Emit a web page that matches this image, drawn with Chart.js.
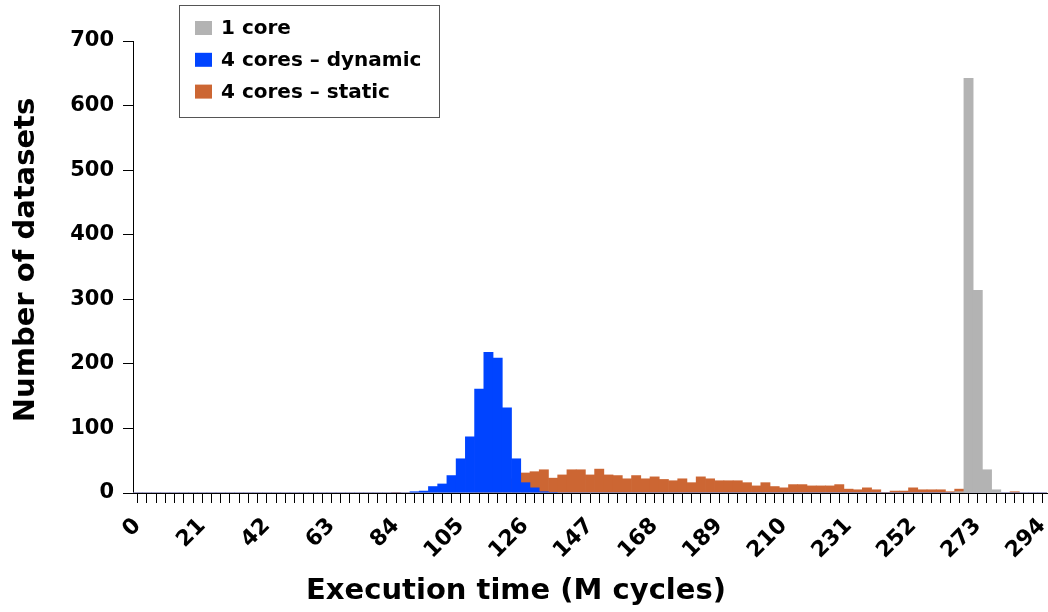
<!DOCTYPE html>
<html>
<head>
<meta charset="utf-8">
<script src="https://cdn.jsdelivr.net/npm/chart.js@4.4.0/dist/chart.umd.min.js"></script>
<style>
  body { margin: 0; background: #fff; }
  #histo { display: block; }
</style>
</head>
<body>
<canvas id="histo" width="1048" height="612"></canvas>
<script>
// bin start of each histogram bar (M cycles, bins of 3)
const binStarts = [
    '0','3','6','9','12','15','18','21','24','27',
    '30','33','36','39','42','45','48','51','54','57',
    '60','63','66','69','72','75','78','81','84','87',
    '90','93','96','99','102','105','108','111','114','117',
    '120','123','126','129','132','135','138','141','144','147',
    '150','153','156','159','162','165','168','171','174','177',
    '180','183','186','189','192','195','198','201','204','207',
    '210','213','216','219','222','225','228','231','234','237',
    '240','243','246','249','252','255','258','261','264','267',
    '270','273','276','279','282','285','288','291','294'
]

// only every 7th bin gets a label
const shownTicks = ['0','21','42','63','84','105','126','147','168','189','210','231','252','273','294']

const oneCore = [
    0,0,0,0,0,0,0,0,0,0,
    0,0,0,0,0,0,0,0,0,0,
    0,0,0,0,0,0,0,0,0,0,
    0,0,0,0,0,0,0,0,0,0,
    0,0,0,0,0,0,0,0,0,0,
    0,0,0,0,0,0,0,0,0,0,
    0,0,0,0,0,0,0,0,0,0,
    0,0,0,0,0,0,0,0,0,0,
    0,0,0,0,0,0,0,0,0,2,
    642,314,36,5,0,0,0,0,0
]

const fourDynamic = [
    0,0,0,0,0,0,0,0,0,0,
    0,0,0,0,0,0,0,0,0,0,
    0,0,0,0,0,0,0,0,0,0,
    2,3,10,14,27,53,87,161,218,209,
    132,53,16,8,2,1,0,0,0,0,
    0,0,0,0,0,0,0,0,0,0,
    0,0,0,0,0,0,0,0,0,0,
    0,0,0,0,0,0,0,0,0,0,
    0,0,0,0,0,0,0,0,0,0,
    0,0,0,0,0,0,0,0,0
]

const fourStatic = [
    0,0,0,0,0,0,0,0,0,0,
    0,0,0,0,0,0,0,0,0,0,
    0,0,0,0,0,0,0,0,1,0,
    0,0,0,0,0,0,0,2,4,8,
    14,22,31,33,36,23,28,36,36,28,
    37,28,27,22,27,22,25,21,19,22,
    16,25,22,19,19,19,16,11,16,10,
    8,13,13,11,11,11,13,6,5,8,
    5,1,3,3,8,5,5,5,2,6,
    0,0,0,0,0,2,0,0,0
]

const seriesNames = ['1 core', '4 cores \u2013 dynamic', '4 cores \u2013 static']
const seriesColors = ['#b3b3b3', '#0044ff', '#cc6633']

const boldFont = (size) => ({ family: 'DejaVu Sans', weight: 'bold', size: size })

// axis titles and the boxed legend, drawn after the bars
const extras = {
    id: 'extras',
    afterDraw(chart) {
        const ctx = chart.ctx
        ctx.save()
        ctx.fillStyle = '#000'
        ctx.font = 'bold 29px "DejaVu Sans"'
        ctx.textAlign = 'center'
        ctx.textBaseline = 'middle'
        ctx.fillText('Execution time (M cycles)', 516, 591)
        ctx.save()
        ctx.translate(26, 260)
        ctx.rotate(-Math.PI / 2)
        ctx.fillText('Number of datasets', 0, 0)
        ctx.restore()

        // legend box
        ctx.fillStyle = '#fff'
        ctx.fillRect(179.5, 5.5, 260, 112)
        ctx.strokeStyle = '#555'
        ctx.lineWidth = 1
        ctx.strokeRect(179.5, 5.5, 260, 112)
        ctx.font = 'bold 20px "DejaVu Sans"'
        ctx.textAlign = 'left'
        chart.data.datasets.forEach((ds, i) => {
            const y = 28 + i * 31.8
            ctx.fillStyle = ds.backgroundColor
            ctx.fillRect(195, y - 7, 17, 14)
            ctx.fillStyle = '#000'
            ctx.fillText(ds.label, 221, y + 1)
        })
        ctx.restore()
    }
}

const histo = new Chart(document.getElementById('histo'), {
    type: 'bar',
    data: {
        labels: binStarts,
        datasets: [
            { label: seriesNames[0], data: oneCore, backgroundColor: seriesColors[0] },
            { label: seriesNames[1], data: fourDynamic, backgroundColor: seriesColors[1] },
            { label: seriesNames[2], data: fourStatic, backgroundColor: seriesColors[2] }
        ]
    },
    options: {
        responsive: false,
        animation: false,
        grouped: false,
        barPercentage: 1,
        categoryPercentage: 1,
        borderWidth: 0,
        layout: { padding: { top: 41, right: 1, left: 0, bottom: 0 } },
        plugins: {
            legend: { display: false },
            tooltip: { enabled: false }
        },
        scales: {
            x: {
                offset: true,
                grid: { offset: false, drawOnChartArea: false, tickLength: 10, color: '#000' },
                border: { color: '#000', width: 1 },
                ticks: {
                    autoSkip: false,
                    minRotation: 45,
                    maxRotation: 45,
                    padding: 10,
                    color: '#000',
                    font: boldFont(22),
                    callback: function (v) {
                        const l = this.getLabelForValue(v)
                        return shownTicks.includes(l) ? l : ''
                    }
                },
                afterFit: (scale) => {
                    scale.height = 119
                    // rotated labels hang left, no room needed on the right
                    scale.paddingRight = 0
                }
            },
            y: {
                min: 0,
                max: 700,
                grid: { drawOnChartArea: false, tickLength: 10, color: '#000' },
                border: { color: '#000', width: 1 },
                ticks: { stepSize: 100, padding: 9, color: '#000', font: boldFont(21) },
                afterFit: (scale) => { scale.width = 133 }
            }
        }
    },
    plugins: [extras]
})
</script>
</body>
</html>
